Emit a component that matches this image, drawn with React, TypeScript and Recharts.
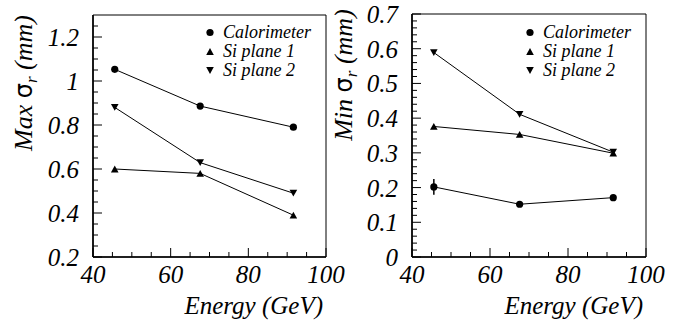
import { LineChart, Line, XAxis, YAxis, ReferenceArea, ErrorBar, Legend, Label } from "recharts";

// beam energies (GeV)
const ENERGY = [45.6, 67.6, 91.6];

// left panel: max sigma_r (mm)
const MAX_CALO = [1.053, 0.886, 0.79];
const MAX_SI1 = [0.6, 0.58, 0.39];
const MAX_SI2 = [0.88, 0.629, 0.49];

// right panel: min sigma_r (mm)
const MIN_CALO = [0.202, 0.152, 0.171];
const MIN_CALO_ERR = [0.023, 0, 0];
const MIN_SI1 = [0.376, 0.353, 0.299];
const MIN_SI2 = [0.589, 0.411, 0.302];

const SERIES = ["Calorimeter", "Si plane 1", "Si plane 2"];
const SHAPES = ["circle", "up", "down"];

const X_MAJOR = [40, 60, 80, 100];
const MAX_Y_MAJOR = [0.2, 0.4, 0.6, 0.8, 1, 1.2];
const MIN_Y_MAJOR = [0, 0.1, 0.2, 0.3, 0.4, 0.5, 0.6, 0.7];

const range = (a: number, b: number, step: number) => {
  const out: number[] = [];
  for (let i = 0; a + i * step <= b + 1e-9; i++) out.push(Math.round((a + i * step) * 1000) / 1000);
  return out;
};
const X_TICKS = range(40, 100, 5);
const MAX_Y_TICKS = range(0.2, 1.25, 0.05);
const MIN_Y_TICKS = range(0, 0.7, 0.02);

const maxData = ENERGY.map((e, i) => ({ energy: e, calo: MAX_CALO[i], si1: MAX_SI1[i], si2: MAX_SI2[i] }));
const minData = ENERGY.map((e, i) => ({ energy: e, calo: MIN_CALO[i], caloErr: MIN_CALO_ERR[i], si1: MIN_SI1[i], si2: MIN_SI2[i] }));

const FONT = '"Liberation Serif", serif';
const txt = (size: number) => ({ fontFamily: FONT, fontStyle: "italic", fontSize: size });
const isIn = (v: number, list: number[]) => list.some(m => Math.abs(m - v) < 1e-6);
const fmt = (v: number) => String(Math.round(v * 100) / 100);

function Marker({ cx, cy, shape }: any) {
  if (cx == null || cy == null) return null;
  if (shape === "circle") return <circle cx={cx} cy={cy} r={3.6} fill="#000" />;
  const w = 3.8, h = 3.4;
  if (shape === "up")
    return <polygon points={`${cx - w},${cy + h} ${cx + w},${cy + h} ${cx},${cy - h}`} fill="#000" />;
  return <polygon points={`${cx - w},${cy - h} ${cx + w},${cy - h} ${cx},${cy + h}`} fill="#000" />;
}

const dotFor = (shape: string) => (p: any) => <Marker key={`${shape}-${p.index}`} cx={p.cx} cy={p.cy} shape={shape} />;

function YTick({ x, y, payload, major }: any) {
  const isMajor = isIn(payload.value, major);
  return (
    <g>
      <line x1={x} x2={x + (isMajor ? 9 : 5)} y1={y} y2={y} stroke="#000" strokeWidth={1} />
      {isMajor && (
        <text x={x - 14} y={y + 9} textAnchor="end" style={txt(25)} fill="#000">
          {fmt(payload.value)}
        </text>
      )}
    </g>
  );
}

function XTick({ x, y, payload }: any) {
  const isMajor = isIn(payload.value, X_MAJOR);
  return (
    <g>
      <line x1={x} x2={x} y1={y} y2={y - (isMajor ? 9 : 5)} stroke="#000" strokeWidth={1} />
      {isMajor && (
        <text x={x} y={y + 26} textAnchor="middle" style={txt(25)} fill="#000">
          {fmt(payload.value)}
        </text>
      )}
    </g>
  );
}

function LegendBox({ payload }: any) {
  return (
    <div>
      {(payload || []).map((item: any) => {
        const idx = SERIES.indexOf(item.value);
        return (
          <div key={item.value} style={{ display: "flex", alignItems: "center", height: 19 }}>
            <svg width={14} height={19}>
              <Marker cx={7} cy={9.5} shape={SHAPES[idx]} />
            </svg>
            <span style={{ ...txt(18), marginLeft: 6, lineHeight: "19px", color: "#000" }}>{item.value}</span>
          </div>
        );
      })}
    </div>
  );
}

function YTitle({ word, cy }: { word: string; cy: number }) {
  return (
    <text transform={`rotate(-90, 32, ${cy})`} x={32} y={cy} textAnchor="middle" style={txt(26)} fill="#000">
      {word} <tspan style={{ fontFamily: '"DejaVu Sans", sans-serif', fontStyle: "normal", fontSize: 24 }}>σ</tspan>
      <tspan style={{ fontSize: 17 }} dy={5}>r</tspan>
      <tspan dy={-5}> (mm)</tspan>
    </text>
  );
}

function Panel({ data, yDomain, yTicks, yMajor, word, titleY, margin, width, left, withErr }: any) {
  return (
    <div style={{ position: "absolute", left, top: 0 }}>
      <LineChart width={width} height={321} data={data} margin={margin}>
        <ReferenceArea x1={40} x2={100} y1={yDomain[0]} y2={yDomain[1]} fill="none" stroke="#000" strokeWidth={1} />
        <XAxis
          dataKey="energy"
          type="number"
          domain={[40, 100]}
          ticks={X_TICKS}
          interval={0}
          height={30}
          tickSize={0}
          tickMargin={0}
          tickLine={false}
          axisLine={{ stroke: "#000", strokeWidth: 1.6 }}
          tick={<XTick />}
        >
          <Label
            content={() => (
              <text x={width - margin.right - 3} y={314} textAnchor="end" style={txt(25)} fill="#000">
                Energy (GeV)
              </text>
            )}
          />
        </XAxis>
        <YAxis
          type="number"
          domain={yDomain}
          ticks={yTicks}
          interval={0}
          width={60}
          tickSize={0}
          tickMargin={0}
          tickLine={false}
          allowDataOverflow
          axisLine={{ stroke: "#000", strokeWidth: 1.6 }}
          tick={<YTick major={yMajor} />}
        >
          <Label content={() => <YTitle word={word} cy={titleY} />} />
        </YAxis>
        <Legend
          layout="horizontal"
          verticalAlign="middle"
          align="center"
          content={<LegendBox />}
          wrapperStyle={{ position: "absolute", left: 203, top: 23, width: 140, height: 60 }}
        />
        <Line dataKey="calo" name={SERIES[0]} stroke="#000" strokeWidth={1} dot={dotFor("circle")} activeDot={false} isAnimationActive={false}>
          {withErr && <ErrorBar dataKey="caloErr" direction="y" width={0} stroke="#000" strokeWidth={1.5} />}
        </Line>
        <Line dataKey="si1" name={SERIES[1]} stroke="#000" strokeWidth={1} dot={dotFor("up")} activeDot={false} isAnimationActive={false} />
        <Line dataKey="si2" name={SERIES[2]} stroke="#000" strokeWidth={1} dot={dotFor("down")} activeDot={false} isAnimationActive={false} />
      </LineChart>
    </div>
  );
}

export default function App() {
  return (
    <div style={{ position: "absolute", left: 0, top: 0, width: 693, height: 321, background: "#fff", overflow: "hidden" }}>
      <Panel
        data={maxData}
        yDomain={[0.2, 1.3]}
        yTicks={MAX_Y_TICKS}
        yMajor={MAX_Y_MAJOR}
        word="Max"
        titleY={83}
        width={346}
        left={0}
        margin={{ top: 15, right: 20, bottom: 34, left: 33 }}
      />
      <Panel
        data={minData}
        yDomain={[0, 0.7]}
        yTicks={MIN_Y_TICKS}
        yMajor={MIN_Y_MAJOR}
        word="Min"
        titleY={75}
        width={373}
        left={320}
        withErr
        margin={{ top: 14, right: 47, bottom: 34, left: 32 }}
      />
    </div>
  );
}
